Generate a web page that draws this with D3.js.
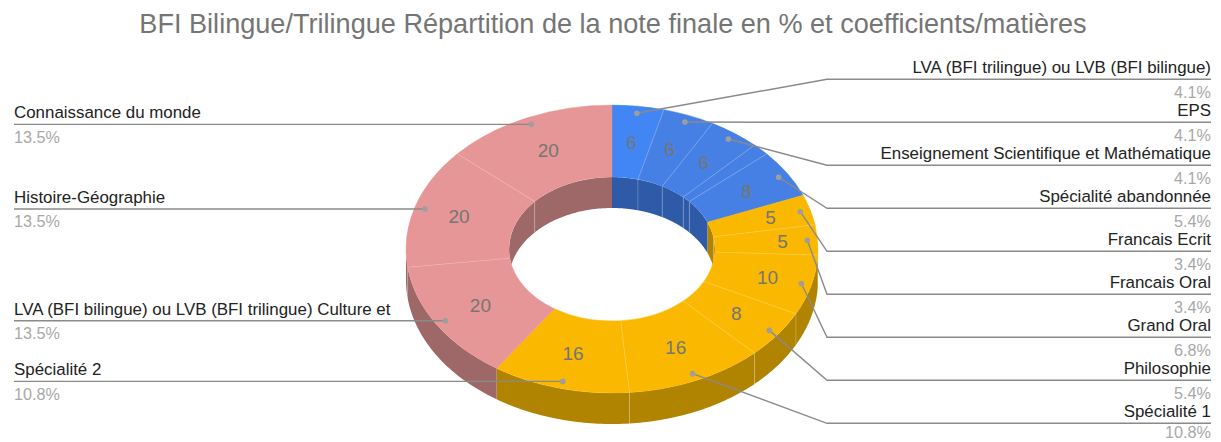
<!DOCTYPE html>
<meta charset="utf-8">
<style>
  body { margin: 0; background: #fff; }
  text { font-family: "Liberation Sans", Arial, sans-serif; }
</style>
<svg width="1221" height="442"></svg>
<script src="https://cdn.jsdelivr.net/npm/d3@7"></script>
<script>

var title = "BFI Bilingue/Trilingue Répartition de la note finale en % et coefficients/matières";

// the slice with an empty name is too thin to get a label in the original
var categories = ["LVA (BFI trilingue) ou LVB (BFI bilingue)", "EPS", "Enseignement Scientifique et Mathématique", "",
  "Spécialité abandonnée", "Francais Ecrit", "Francais Oral", "Grand Oral", "Philosophie", "Spécialité 1",
  "Spécialité 2", "LVA (BFI bilingue) ou LVB (BFI trilingue) Culture et", "Histoire-Géographie", "Connaissance du monde"];
var values = [6, 6, 6, 2, 8, 5, 5, 10, 8, 16, 16, 20, 20, 20];

var topColors = ["#4285f4", "#4780e4", "#4780e4", "#4780e4", "#4780e4", "#fbb800", "#fbb800", "#fbb800", "#fbb800",
  "#fbb800", "#fbb800", "#e69696", "#e69696", "#e69696"];
var sideColors = ["#2e5aa8", "#2e5aa8", "#2e5aa8", "#2e5aa8", "#2e5aa8", "#b08300", "#b08300", "#b08300", "#b08300",
  "#b08300", "#b08300", "#9e6868", "#9e6868", "#9e6868"];

// these value labels sit further out than the usual 0.75 of the radius
var labelRadius = {4: 0.767, 5: 0.8, 6: 0.83, 7: 0.78, 12: 0.777};

var svg = d3.select("svg"),
    cx = 612, cy = 249,
    rOuter = 206, rInner = 103,
    squash = 144 / 206,
    depth = 31;

var slices = d3.pie().sort(null).startAngle(0).endAngle(2 * Math.PI)(values);
var total = d3.sum(values);
var pct = d3.format(".1f");

// angle is clockwise from the top of the ellipse
function px(a, r) { return cx + r * Math.sin(a); }
function py(a, r, dy) { return cy - r * squash * Math.cos(a) + (dy || 0); }

var line = d3.line();

function wall(a0, a1, r) {
  var n = 40;
  var top = d3.range(n + 1).map(function(i) {
    var a = a0 + (a1 - a0) * i / n;
    return [px(a, r), py(a, r)];
  });
  var bottom = d3.range(n + 1).map(function(i) {
    var a = a1 - (a1 - a0) * i / n;
    return [px(a, r), py(a, r, depth)];
  });
  return line(top.concat(bottom)) + "Z";
}

svg.append("text")
    .attr("x", 613).attr("y", 33)
    .attr("text-anchor", "middle")
    .attr("font-size", 27.1)
    .attr("fill", "#757575")
    .text(title);

// outer wall, front half only
var outerWall = svg.append("g");
slices.forEach(function(d, i) {
  var a0 = Math.max(d.startAngle, Math.PI / 2),
      a1 = Math.min(d.endAngle, 3 * Math.PI / 2);
  if (a1 <= a0) return;
  outerWall.append("path")
      .attr("d", wall(a0, a1, rOuter))
      .attr("fill", sideColors[i]);
  if (i > 0 && sideColors[i] == sideColors[i - 1] && d.startAngle >= Math.PI / 2) {
    outerWall.append("line")
        .attr("x1", px(d.startAngle, rOuter)).attr("y1", py(d.startAngle, rOuter))
        .attr("x2", px(d.startAngle, rOuter)).attr("y2", py(d.startAngle, rOuter, depth))
        .attr("stroke", "#fff").attr("stroke-opacity", 0.2);
  }
});

// inner wall, back half only, seen through the hole
svg.append("clipPath").attr("id", "hole")
  .append("ellipse")
    .attr("cx", cx).attr("cy", cy)
    .attr("rx", rInner).attr("ry", rInner * squash);

var innerWall = svg.append("g").attr("clip-path", "url(#hole)");
[[0, Math.PI / 2], [3 * Math.PI / 2, 2 * Math.PI]].forEach(function(range) {
  slices.forEach(function(d, i) {
    var a0 = Math.max(d.startAngle, range[0]),
        a1 = Math.min(d.endAngle, range[1]);
    if (a1 <= a0) return;
    innerWall.append("path")
        .attr("d", wall(a0, a1, rInner))
        .attr("fill", sideColors[i]);
    if (i > 0 && sideColors[i] == sideColors[i - 1] && d.startAngle >= range[0]) {
      innerWall.append("line")
          .attr("x1", px(d.startAngle, rInner)).attr("y1", py(d.startAngle, rInner))
          .attr("x2", px(d.startAngle, rInner)).attr("y2", py(d.startAngle, rInner, depth))
          .attr("stroke", "#fff").attr("stroke-opacity", 0.2);
    }
  });
});

// top face
var arc = d3.arc().innerRadius(rInner).outerRadius(rOuter);
var face = svg.append("g")
    .attr("transform", "translate(" + cx + "," + cy + ") scale(1," + squash + ")");
face.selectAll("path")
    .data(slices)
  .enter().append("path")
    .attr("d", arc)
    .attr("fill", function(d, i) { return topColors[i]; })
    .attr("stroke", function(d, i) { return topColors[i]; })
    .attr("stroke-width", 0.5);

slices.forEach(function(d, i) {
  if (i == 0 || sideColors[i] != sideColors[i - 1]) return;
  svg.append("line")
      .attr("x1", px(d.startAngle, rInner)).attr("y1", py(d.startAngle, rInner))
      .attr("x2", px(d.startAngle, rOuter)).attr("y2", py(d.startAngle, rOuter))
      .attr("stroke", "#fff").attr("stroke-opacity", 0.2);
});

// values inside the slices, skipping the unnamed sliver
slices.forEach(function(d, i) {
  if (!categories[i]) return;
  var mid = (d.startAngle + d.endAngle) / 2,
      r = rOuter * (labelRadius[i] || 0.75);
  svg.append("text")
      .attr("x", px(mid, r))
      .attr("y", py(mid, r) + 6.8)
      .attr("text-anchor", "middle")
      .attr("font-size", 19)
      .attr("fill", "#757575")
      .text(values[i]);
});

// callouts
var leftX = 14, rightX = 1211, elbowX = 827,
    rowStart = 79.3, rowStep = 43, rightRow = 0;

slices.forEach(function(d, i) {
  if (!categories[i]) return;
  var mid = (d.startAngle + d.endAngle) / 2,
      dotX = px(mid, rOuter * 0.95),
      dotY = py(mid, rOuter * 0.95),
      isLeft = mid > Math.PI,
      y = isLeft ? dotY : rowStart + rowStep * rightRow++,
      x = isLeft ? leftX : rightX,
      pts = isLeft ? [[dotX, dotY], [x, y]] : [[dotX, dotY], [elbowX, y], [x, y]];

  svg.append("path")
      .attr("d", line(pts))
      .attr("fill", "none")
      .attr("stroke", "#8a8a8a")
      .attr("stroke-width", 1.4);
  svg.append("circle")
      .attr("cx", dotX).attr("cy", dotY).attr("r", 2.8)
      .attr("fill", "#9e9e9e");

  svg.append("text")
      .attr("x", x).attr("y", y - 6)
      .attr("text-anchor", isLeft ? "start" : "end")
      .attr("font-size", 16.9)
      .attr("fill", "#222")
      .text(categories[i]);
  // the last row sits against the bottom edge of the picture
  svg.append("text")
      .attr("x", x).attr("y", Math.min(y + 18.2, 438))
      .attr("text-anchor", isLeft ? "start" : "end")
      .attr("font-size", 16.2)
      .attr("fill", "#a8a8a8")
      .text(pct(values[i] / total * 100) + "%");
});

</script>
